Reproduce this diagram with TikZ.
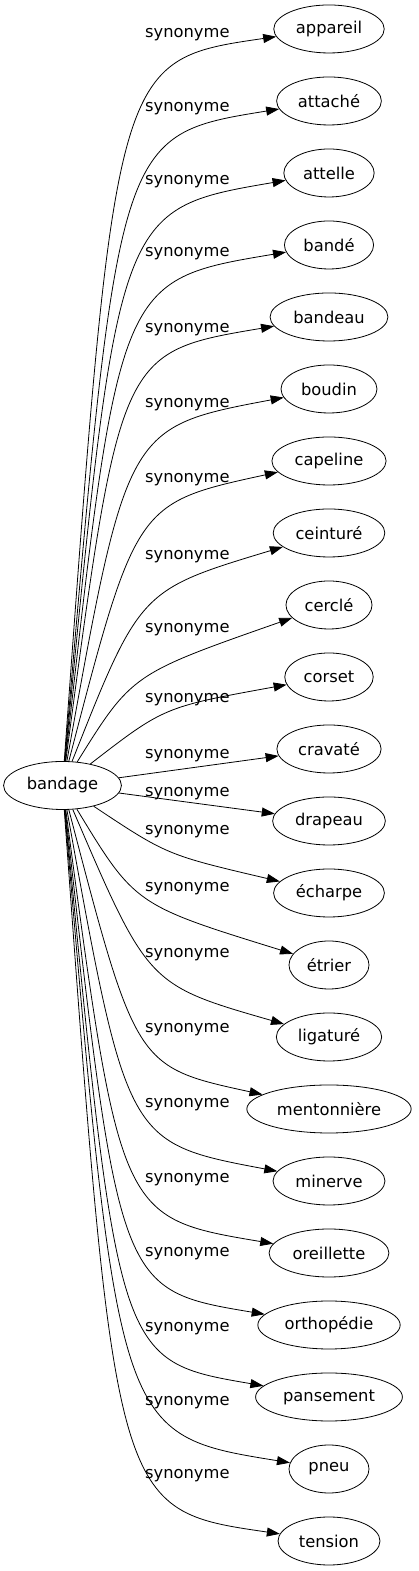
\documentclass[tikz,border=0pt]{standalone}
\usepackage{fontspec}
\setmainfont{DejaVu Sans}
\usetikzlibrary{shapes.geometric, arrows.meta}

\begin{document}
\begin{tikzpicture}[x=1pt, y=1pt,
    word/.style={ellipse, draw, line width=0.8pt, minimum width=80pt, minimum height=48pt, inner xsep=6pt, font=\fontsize{16.3}{19}\selectfont},
    syn/.style={anchor=base west, inner sep=0pt, font=\fontsize{16.3}{19}\selectfont},
    arrow/.style={-{Triangle[length=13pt, width=9pt]}, line width=0.8pt}
]
\useasboundingbox (0,0) rectangle (419,1571);

\node[word] (bandage) at (62.5,785.5) {bandage};

\foreach \w [count=\i from 0] in {appareil, attaché, attelle, bandé, bandeau, boudin, capeline, ceinturé, cerclé, corset, cravaté, drapeau, écharpe, étrier, ligaturé, mentonnière, minerve, oreillette, orthopédie, pansement, pneu, tension}
    \node[word] (n\i) at (329,{1542-72*\i}) {\w};

% edge labels
\foreach \ly [count=\i from 0] in {33,107,180,252,328,403,478,555,628,698,754,792,830,887,953,1028,1103,1178,1252,1327,1401,1474}
    \node[syn] (l\i) at (145,{1566-\ly}) {synonyme};

% curved edges, one bend point each
\foreach \i/\cx/\k in {0/115/-31, 1/118/-34, 2/118/-36, 3/119/-35, 4/120/-35, 5/127/-38, 6/136/-42, 7/140/-57, 8/132/-69, 9/164/-30,
    12/167/38, 13/135/60, 14/148/52, 15/136/42, 16/127/38, 17/120/35, 18/119/35, 19/118/36, 20/118/34, 21/115/31}
    \draw[arrow] (bandage) .. controls (\cx,{1542-72*\i+(\k)}) and (\cx,{1542-72*\i+(\k)}) .. (n\i);

\draw[arrow] (bandage) -- (n10);
\draw[arrow] (bandage) -- (n11);

\end{tikzpicture}
\end{document}
